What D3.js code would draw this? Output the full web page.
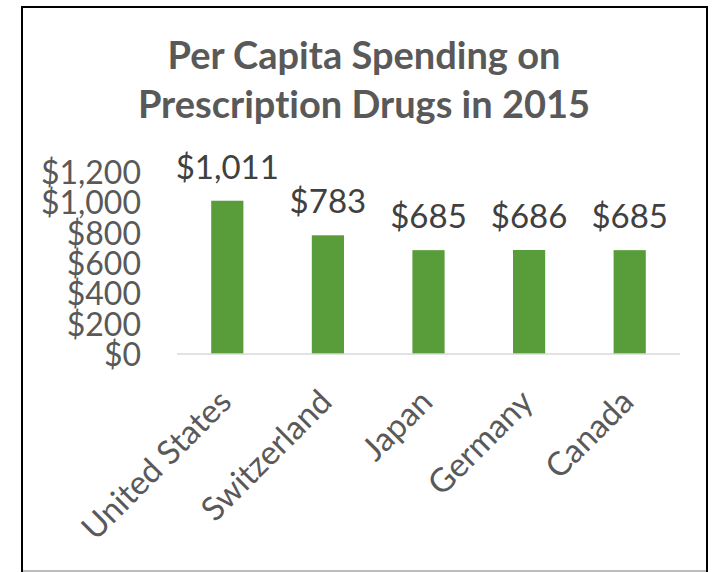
<!DOCTYPE html>
<html>
<head>
<meta charset="utf-8">
<script src="https://cdn.jsdelivr.net/npm/d3@7"></script>
<style>
  html, body { margin: 0; padding: 0; background: #fff; }
  svg { display: block; }
  text { font-family: Lato, "Open Sans", sans-serif; font-variant-ligatures: none; font-feature-settings: "liga" 0, "dlig" 0; }
</style>
</head>
<body>
<svg id="chart" width="712" height="572"></svg>
<script>
// Per capita prescription drug spending, 2015 (US dollars)
const countries = ["United States", "Switzerland", "Japan", "Germany", "Canada"];
const spending = [1011, 783, 685, 686, 685];
const yTicks = [0, 200, 400, 600, 800, 1000, 1200];
const titleLines = ["Per Capita Spending on", "Prescription Drugs in 2015"];

const svg = d3.select("#chart");
const W = 712, H = 572;

// frame
svg.append("rect").attr("width", W).attr("height", H).attr("fill", "#fff");
svg.append("path")
  .attr("d", "M22,572 L22,7 L707,7 L707,572")
  .attr("fill", "none").attr("stroke", "#000").attr("stroke-width", 2);
svg.append("line")
  .attr("x1", 23).attr("x2", 706).attr("y1", 571).attr("y2", 571)
  .attr("stroke", "#a6a6a6").attr("stroke-width", 1.5);

// title
svg.append("g").selectAll("text").data(titleLines).join("text")
  .attr("x", 364)
  .attr("y", (d, i) => 69 + i * 49)
  .attr("text-anchor", "middle")
  .attr("font-size", 38)
  .attr("font-weight", 700)
  .attr("fill", "#595959")
  .text(d => d);

// scales
const x = d3.scaleBand()
  .domain(countries)
  .range([177, 680])
  .paddingInner(0.68)
  .paddingOuter(0.34);

const y = d3.scaleLinear()
  .domain([0, 1200])
  .range([354, 354 - 1200 * 0.1516]);

const fmt = d => "$" + d3.format(",")(d);

// y axis labels (no line, no ticks)
const yAxis = d3.axisLeft(y).tickValues(yTicks).tickFormat(fmt).tickSize(0).tickPadding(0);
const gy = svg.append("g").attr("transform", "translate(141,0)").call(yAxis);
gy.select(".domain").remove();
gy.selectAll("text")
  .attr("font-family", "Lato, 'Open Sans', sans-serif")
  .attr("font-size", 32)
  .attr("fill", "#595959")
  .attr("dy", "0.36em");

// bars
svg.append("g").selectAll("rect").data(spending).join("rect")
  .attr("x", (d, i) => x(countries[i]))
  .attr("width", x.bandwidth())
  .attr("y", d => y(d))
  .attr("height", d => y(0) - y(d))
  .attr("fill", "#589D3A");

// baseline
svg.append("line")
  .attr("x1", 177).attr("x2", 680)
  .attr("y1", y(0)).attr("y2", y(0))
  .attr("stroke", "#d9d9d9").attr("stroke-width", 1.5);

// value labels
svg.append("g").selectAll("text").data(spending).join("text")
  .attr("x", (d, i) => x(countries[i]) + x.bandwidth() / 2)
  .attr("y", d => y(d) - 22)
  .attr("text-anchor", "middle")
  .attr("font-size", 33)
  .attr("fill", "#404040")
  .text(fmt);

// category labels, rotated
svg.append("g").selectAll("text").data(countries).join("text")
  .attr("transform", d => `translate(${x(d) + x.bandwidth() / 2 + 6},404) rotate(-45)`)
  .attr("text-anchor", "end")
  .attr("font-size", 33)
  .attr("fill", "#595959")
  .text(d => d);
</script>
</body>
</html>
